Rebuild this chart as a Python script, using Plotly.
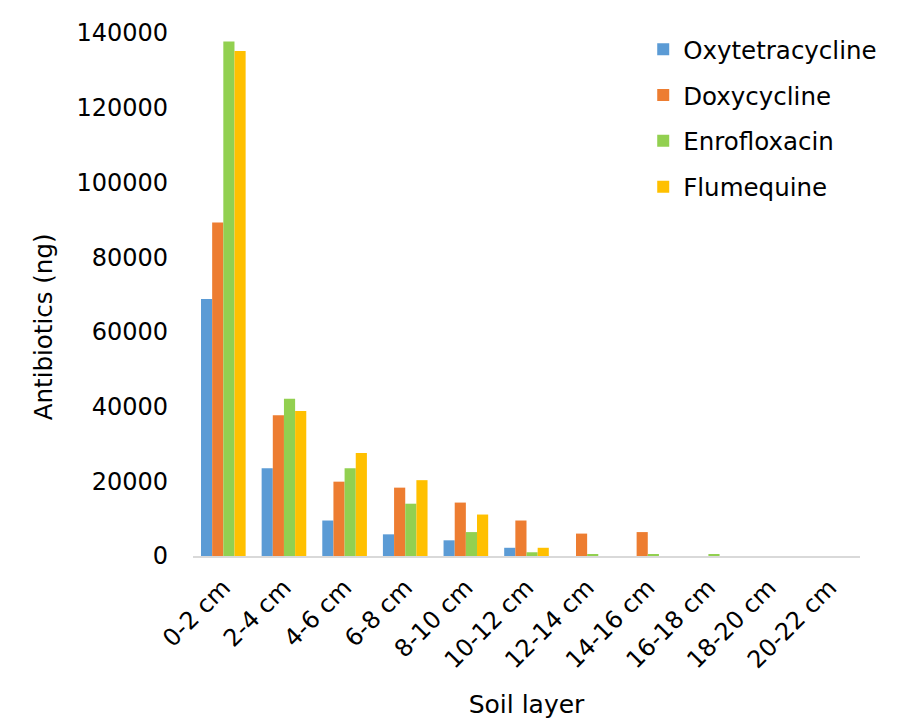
import plotly.graph_objects as go

# Soil layers (depth intervals)
layers = ["0-2 cm", "2-4 cm", "4-6 cm", "6-8 cm", "8-10 cm", "10-12 cm",
          "12-14 cm", "14-16 cm", "16-18 cm", "18-20 cm", "20-22 cm"]

# Antibiotic amounts per layer (ng)
oxytetracycline = [68800, 23500, 9500, 5800, 4200, 2200, 0, 0, 0, 0, 0]
doxycycline = [89300, 37700, 19900, 18300, 14300, 9500, 6000, 6400, 0, 0, 0]
enrofloxacin = [137700, 42100, 23500, 14000, 6400, 1000, 400, 400, 400, 0, 0]
flumequine = [135200, 38800, 27600, 20300, 11100, 2200, 0, 0, 0, 0, 0]

series = [
    ("Oxytetracycline", oxytetracycline, "#5B9BD5"),
    ("Doxycycline", doxycycline, "#ED7D31"),
    ("Enrofloxacin", enrofloxacin, "#92D050"),
    ("Flumequine", flumequine, "#FFC000"),
]

FONT = "DejaVu Sans"
FS = 24

fig = go.Figure()
for i, (name, vals, col) in enumerate(series):
    fig.add_trace(go.Bar(
        x=layers, y=vals, name=name, legendgroup=f"g{i}",
        marker=dict(color=col, line=dict(width=0)),
    ))

fig.update_layout(
    width=900, height=726,
    margin=dict(l=193, r=40, t=33, b=168),
    paper_bgcolor="white", plot_bgcolor="white",
    font=dict(family=FONT, size=FS, color="#000000"),
    barmode="group", bargap=0.264, bargroupgap=0,
    legend=dict(
        x=0.675, y=1.012, xanchor="left", yanchor="top",
        font=dict(family=FONT, size=24.5, color="#000000"),
        tracegroupgap=11, itemwidth=30,
        bgcolor="rgba(0,0,0,0)",
    ),
    xaxis=dict(
        tickangle=-45, showgrid=False, showline=True,
        linecolor="#D9D9D9", linewidth=2, ticks="",
        ticklabelstandoff=6,
        tickfont=dict(family=FONT, size=FS),
        title=dict(text="Soil layer", font=dict(family=FONT, size=25), standoff=22),
    ),
    yaxis=dict(
        range=[0, 140000], dtick=20000, showgrid=False, showline=False,
        zeroline=False, ticks="", tickformat="d",
        ticklabelstandoff=24,
        tickfont=dict(family=FONT, size=FS),
    ),
    annotations=[dict(
        text="Antibiotics (ng)", textangle=-90,
        xref="paper", yref="paper", x=-0.223, y=0.438,
        xanchor="center", yanchor="middle", showarrow=False,
        font=dict(family=FONT, size=24.5, color="#000000"),
    )],
)

fig.write_html("out.html")
